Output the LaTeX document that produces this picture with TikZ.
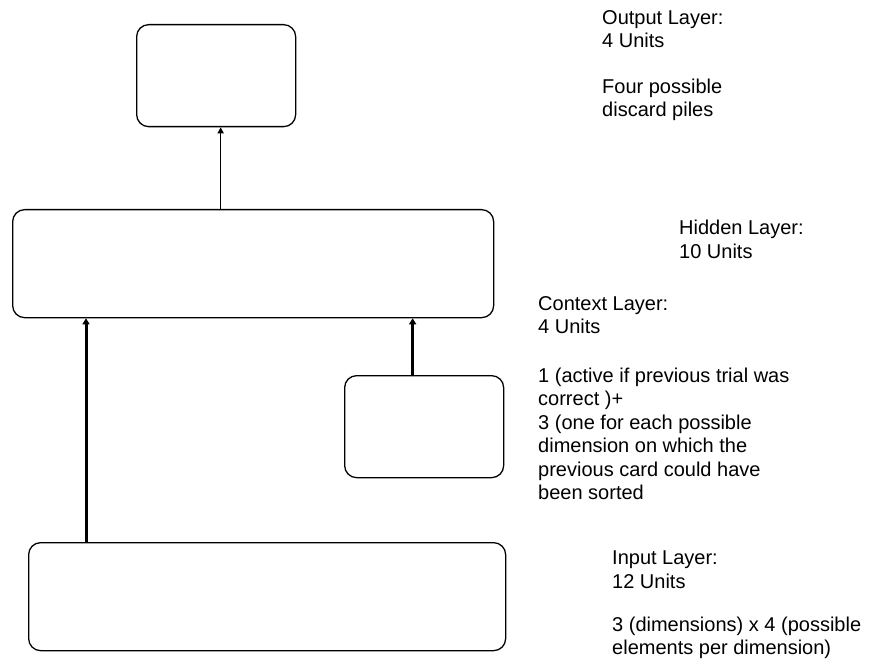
\documentclass[tikz,border=0pt]{standalone}
\usepackage{fontspec}
\setmainfont{Liberation Sans}
\usetikzlibrary{arrows.meta,positioning}

\begin{document}
\begin{tikzpicture}[
    x=1pt, y=-1pt,
    layer/.style={draw, rounded corners=12pt, line width=1.3pt, inner sep=0pt, anchor=north west},
    note/.style={anchor=north west, align=left, inner sep=0pt, font=\fontsize{20}{23.5}\selectfont},
    thin link/.style={-{Triangle[length=6pt,width=6pt]}, line width=1.5pt},
    thick link/.style={-{Triangle[length=6pt,width=7pt]}, line width=3pt}
]
\useasboundingbox (0,0) rectangle (878,663);
% layers
\node[layer, minimum width=159pt, minimum height=102pt] (output) at (136,24) {};
\node[layer, minimum width=481pt, minimum height=108pt] (hidden) at (12,209) {};
\node[layer, minimum width=159pt, minimum height=102pt] (context) at (344,375) {};
\node[layer, minimum width=477pt, minimum height=108pt] (input) at (28,542) {};
% connections
\draw[thin link] ([xshift=4.5pt]output.south |- hidden.north) -- ([xshift=4.5pt]output.south);
\draw[thick link] ([xshift=58pt]input.north west) -- ([xshift=58pt]input.north west |- hidden.south);
\draw[thick link] ([xshift=-11.5pt]context.north) -- ([xshift=-11.5pt]context.north |- hidden.south);
% labels
\node[note] (outputtext) at (602,10) {Output Layer:\\4 Units\\[22pt]Four possible\\discard piles};
\node[note] (hiddentext) at (679,220) {Hidden Layer:\\10 Units};
\node[note] (contexttext) at (538,296) {Context Layer:\\4 Units\\[25pt]1 (active if previous trial was\\correct )+\\3 (one for each possible\\dimension on which the\\previous card could have\\been sorted};
\node[note] (inputtext) at (612,551) {Input Layer:\\12 Units\\[19.5pt]3 (dimensions) x 4 (possible\\elements per dimension)};
\end{tikzpicture}
\end{document}
